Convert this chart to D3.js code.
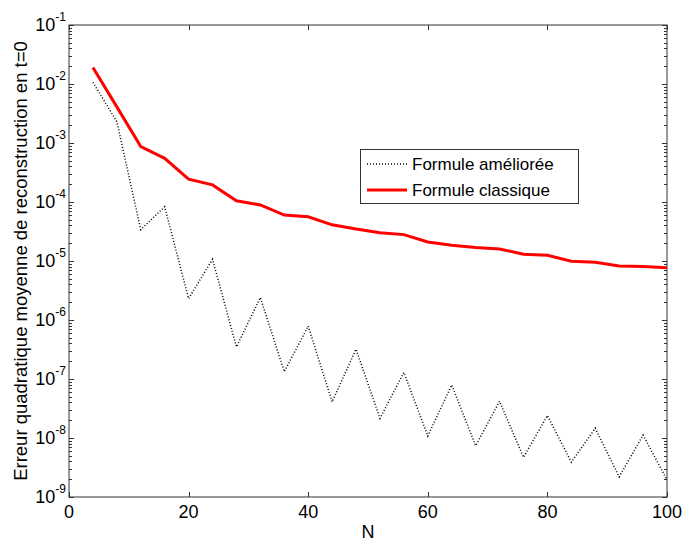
<!DOCTYPE html>
<html><head><meta charset="utf-8">
<script src="https://cdn.jsdelivr.net/npm/d3@7"></script>
<style>body{margin:0;background:#fff}svg{display:block}text{font-family:"Liberation Sans",Arial,sans-serif;fill:#000}</style>
</head><body><svg id="c" width="684" height="542"></svg>
<script>
const N = [4,8,12,16,20,24,28,32,36,40,44,48,52,56,60,64,68,72,76,80,84,88,92,96,100];
const ameliore = [1.07e-2,2.3e-3,3.4e-5,8.3e-5,2.3e-6,1.07e-5,3.5e-7,2.4e-6,1.33e-7,7.9e-7,4.1e-8,3.2e-7,2.15e-8,1.29e-7,1.08e-8,7.9e-8,7.4e-9,4.2e-8,4.7e-9,2.4e-8,3.9e-9,1.46e-8,2.2e-9,1.12e-8,1.95e-9];
const classique = [1.9e-2,4.1e-3,8.7e-4,5.5e-4,2.43e-4,1.95e-4,1.05e-4,8.9e-5,6.0e-5,5.6e-5,4.1e-5,3.5e-5,3.0e-5,2.8e-5,2.1e-5,1.85e-5,1.7e-5,1.6e-5,1.3e-5,1.25e-5,9.9e-6,9.5e-6,8.2e-6,8.1e-6,7.7e-6];
const xTicks = [0,20,40,60,80,100];
const yExp = [-1,-2,-3,-4,-5,-6,-7,-8,-9];
const seriesNames = ["Formule améliorée","Formule classique"];
const xLabel = "N";
const yLabel = "Erreur quadratique moyenne de reconstruction en t=0";

const svg = d3.select("#c");
const L=69, R=667, T=25, B=497;
const x = d3.scaleLinear().domain([0,100]).range([L,R]);
const y = d3.scaleLog().domain([1e-9,1e-1]).range([B,T]);
const ax = "#333";

const g = svg.append("g");
g.append("rect").attr("x",L).attr("y",T).attr("width",R-L).attr("height",B-T).attr("fill","none").attr("stroke",ax).attr("stroke-width",1);

const tl=5;
xTicks.forEach(v=>{
  const px = Math.round(x(v))+0.5;
  g.append("line").attr("x1",px).attr("x2",px).attr("y1",B).attr("y2",B-tl).attr("stroke",ax);
  g.append("line").attr("x1",px).attr("x2",px).attr("y1",T).attr("y2",T+tl).attr("stroke",ax);
  g.append("text").attr("x",x(v)).attr("y",518).attr("text-anchor","middle").attr("font-size",18).text(v);
});
yExp.forEach(e=>{
  const py = Math.round(y(Math.pow(10,e)))+0.5;
  g.append("line").attr("x1",L).attr("x2",L+tl).attr("y1",py).attr("y2",py).attr("stroke",ax);
  g.append("line").attr("x1",R).attr("x2",R-tl).attr("y1",py).attr("y2",py).attr("stroke",ax);
  const t = g.append("text").attr("x",66).attr("y",y(Math.pow(10,e))+6).attr("text-anchor","end").attr("font-size",18);
  t.append("tspan").text("10");
  t.append("tspan").attr("dy",-10).attr("font-size",12).text(e);
  if(e>-9){
    for(let m=2;m<=9;m++){
      const pm = Math.round(y(m*Math.pow(10,e-1)))+0.5;
      g.append("line").attr("x1",L).attr("x2",L+3).attr("y1",pm).attr("y2",pm).attr("stroke",ax);
      g.append("line").attr("x1",R).attr("x2",R-3).attr("y1",pm).attr("y2",pm).attr("stroke",ax);
    }
  }
});

const line = d3.line().x((d,i)=>x(N[i])).y(d=>y(d));
g.append("path").datum(ameliore).attr("d",line).attr("fill","none").attr("stroke","#000").attr("stroke-width",1.5).attr("stroke-dasharray","1,2");
g.append("path").datum(classique).attr("d",line).attr("fill","none").attr("stroke","#ff0000").attr("stroke-width",3);

svg.append("text").attr("x",(L+R)/2).attr("y",538).attr("text-anchor","middle").attr("font-size",18).text(xLabel);
svg.append("text").attr("transform",`translate(27,${(T+B)/2}) rotate(-90)`).attr("text-anchor","middle").attr("font-size",18.5).text(yLabel);

const lg = svg.append("g");
lg.append("rect").attr("x",360.5).attr("y",149.5).attr("width",218).attr("height",54).attr("fill","#fff").attr("stroke",ax);
const rows=[164,190];
lg.append("line").attr("x1",367).attr("x2",407).attr("y1",rows[0]).attr("y2",rows[0]).attr("stroke","#000").attr("stroke-width",1.5).attr("stroke-dasharray","1,2");
lg.append("line").attr("x1",367).attr("x2",407).attr("y1",rows[1]).attr("y2",rows[1]).attr("stroke","#ff0000").attr("stroke-width",3);
seriesNames.forEach((s,i)=>lg.append("text").attr("x",412).attr("y",rows[i]+6).attr("font-size",17).text(s));
</script></body></html>
